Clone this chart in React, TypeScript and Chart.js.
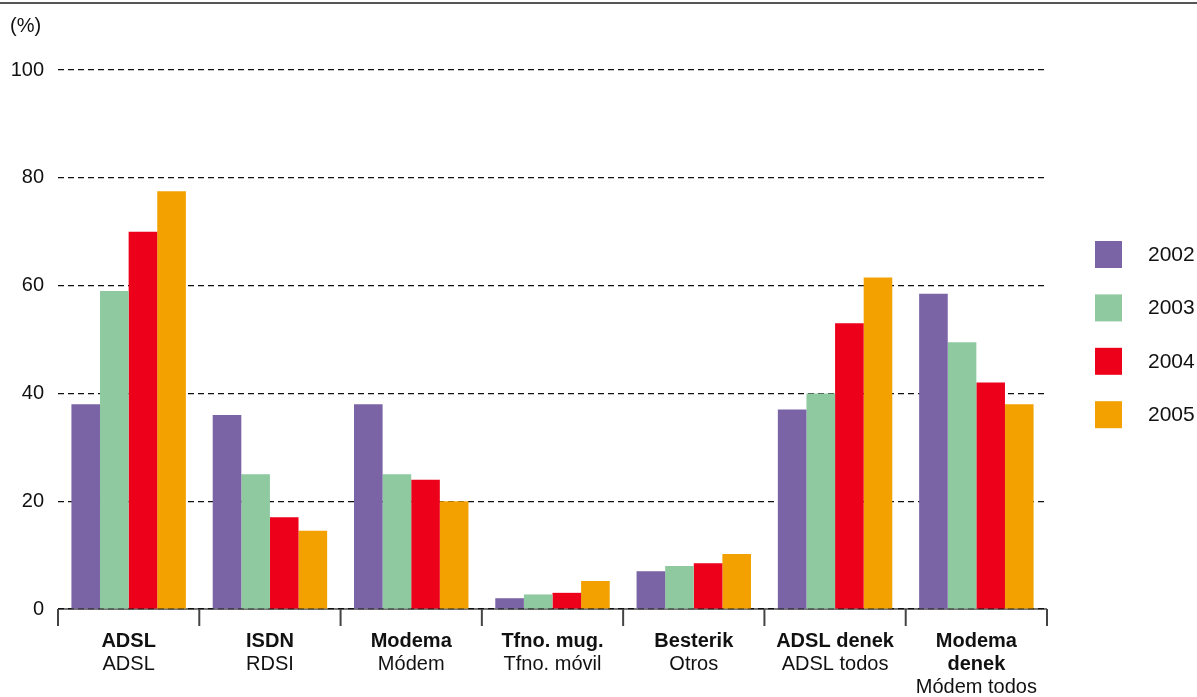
import React, { useEffect, useRef } from "react";
import { Chart, registerables } from "chart.js";

Chart.register(...registerables);

// Category names: Basque (bold) lines and Spanish sub-label
const categoryNames: string[][] = [
  ["ADSL"],
  ["ISDN"],
  ["Modema"],
  ["Tfno. mug."],
  ["Besterik"],
  ["ADSL denek"],
  ["Modema", "denek"],
];
const categorySubNames = ["ADSL", "RDSI", "Módem", "Tfno. móvil", "Otros", "ADSL todos", "Módem todos"];

const years = ["2002", "2003", "2004", "2005"];
const values2002 = [38, 36, 38, 2, 7, 37, 58.5];
const values2003 = [59, 25, 25, 2.7, 8, 40, 49.5];
const values2004 = [70, 17, 24, 3, 8.5, 53, 42];
const values2005 = [77.5, 14.5, 20, 5.2, 10.2, 61.5, 38];
const yearColors = ["#7A64A5", "#8FC9A0", "#EC001A", "#F2A100"];

const yTicks = [0, 20, 40, 60, 80, 100];

const FONT = "'Liberation Sans', Arial, Helvetica, sans-serif";
const W = 1197;
const H = 697;

const decorPlugin = {
  id: "decor",
  beforeDraw(chart: any) {
    const { ctx, chartArea } = chart;
    ctx.save();
    // top rule
    ctx.fillStyle = "#555";
    ctx.fillRect(0, 2, W, 2);
    // solid base line under the dashed zero line
    ctx.strokeStyle = "#777";
    ctx.lineWidth = 2;
    ctx.beginPath();
    ctx.moveTo(chartArea.left, chartArea.bottom);
    ctx.lineTo(chartArea.right, chartArea.bottom);
    ctx.stroke();
    ctx.restore();
  },
  afterDraw(chart: any) {
    const { ctx, chartArea, scales } = chart;
    const x = scales.x;
    ctx.save();
    // unit label
    ctx.fillStyle = "#111";
    ctx.font = `20px ${FONT}`;
    ctx.textAlign = "left";
    ctx.textBaseline = "middle";
    ctx.fillText("(%)", 10, 26);

    // category boundary ticks
    const n = categorySubNames.length;
    const step = (chartArea.right - chartArea.left) / n;
    ctx.strokeStyle = "#444";
    ctx.lineWidth = 2;
    for (let i = 0; i <= n; i++) {
      const px = i === n ? x.getPixelForValue(n - 1) + step / 2 : x.getPixelForValue(i) - step / 2;
      ctx.beginPath();
      ctx.moveTo(px, chartArea.bottom);
      ctx.lineTo(px, chartArea.bottom + 17);
      ctx.stroke();
    }

    // category labels
    ctx.textAlign = "center";
    ctx.textBaseline = "middle";
    for (let i = 0; i < n; i++) {
      const cx = x.getPixelForValue(i);
      let y = chartArea.bottom + 32;
      ctx.font = `bold 20px ${FONT}`;
      for (const line of categoryNames[i]) {
        ctx.fillText(line, cx, y);
        y += 23;
      }
      ctx.font = `20px ${FONT}`;
      ctx.fillText(categorySubNames[i], cx, y);
    }

    // legend
    const datasets = chart.data.datasets;
    datasets.forEach((ds: any, i: number) => {
      const top = 241 + i * 53.4;
      ctx.fillStyle = ds.backgroundColor;
      ctx.fillRect(1095, top, 27, 27);
      ctx.fillStyle = "#111";
      ctx.font = `21px ${FONT}`;
      ctx.textAlign = "left";
      ctx.fillText(ds.label, 1148, top + 14);
    });
    ctx.restore();
  },
};

export default function App() {
  const ref = useRef<HTMLCanvasElement>(null);

  useEffect(() => {
    if (!ref.current) return;
    const seriesValues = [values2002, values2003, values2004, values2005];
    const chart = new Chart(ref.current, {
      type: "bar",
      data: {
        labels: categorySubNames,
        datasets: years.map((y, i) => ({
          label: y,
          data: seriesValues[i],
          backgroundColor: yearColors[i],
          borderWidth: 0,
          barPercentage: 1,
          categoryPercentage: 0.81,
        })),
      },
      options: {
        responsive: false,
        animation: false,
        layout: { padding: { top: 70, left: 0, right: W - 1047, bottom: H - 609 } },
        plugins: {
          legend: { display: false },
          tooltip: { enabled: false },
        },
        scales: {
          x: {
            ticks: { display: false },
            grid: { display: false },
            border: { display: false },
            afterFit: (s: any) => {
              s.height = 0;
            },
          },
          y: {
            min: 0,
            max: 100,
            afterFit: (s: any) => {
              s.width = 58;
            },
            afterBuildTicks: (s: any) => {
              s.ticks = yTicks.map((v) => ({ value: v }));
            },
            ticks: {
              padding: 14,
              color: "#111",
              font: { family: FONT, size: 20 },
            },
            grid: {
              color: "#111",
              lineWidth: 1.2,
              drawTicks: false,
            },
            border: { display: false, dash: [6, 4] },
          },
        },
      },
      plugins: [decorPlugin],
    });
    return () => chart.destroy();
  }, []);

  return (
    <div style={{ position: "fixed", left: 0, top: 0, width: W, height: H, background: "#fff" }}>
      <canvas ref={ref} width={W} height={H} style={{ display: "block" }} />
    </div>
  );
}
